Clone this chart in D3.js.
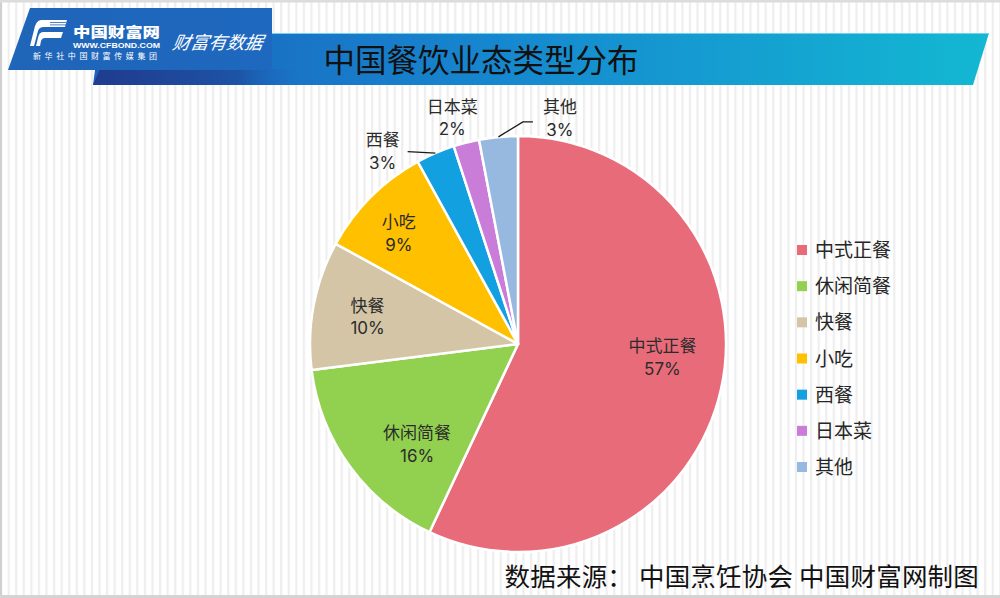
<!DOCTYPE html>
<html>
<head>
<meta charset="utf-8">
<script src="https://cdn.jsdelivr.net/npm/d3@7/dist/d3.min.js"></script>
<style>
  html, body { margin: 0; padding: 0; background: #fff; }
  svg { display: block; }
  text { font-family: "Noto Sans CJK SC", "Noto Sans", sans-serif; }
</style>
</head>
<body>
<svg id="chart" width="1000" height="598"></svg>
<script>
// ---- data ----
const categories = ["中式正餐", "休闲简餐", "快餐", "小吃", "西餐", "日本菜", "其他"];
const shares = [57, 16, 10, 9, 3, 2, 3];
const colors = ["#E86B7A", "#92D050", "#D3C5A5", "#FFC000", "#12A0E0", "#C97DD8", "#98B9DF"];
const titleText = "中国餐饮业态类型分布";
const sourceText = "数据来源： 中国烹饪协会 中国财富网制图";

// ---- layout config (label placement) ----
const labelLayout = {
  "中式正餐": { radius: 145, shift: -7.6 },
  "休闲简餐": { radius: 142, shift: -8.7 },
  "快餐":     { radius: 153, shift: -0.3 },
  "小吃":     { radius: 163, shift: -2 },
  "西餐":     { radius: 236, shift: -11.6, leader: "right" },
  "日本菜":   { radius: 236, shift: -1.8 },
  "其他":     { radius: 230, shift: 15.9, leader: "left" }
};

const W = 1000, H = 598;
const svg = d3.select("#chart");
const defs = svg.append("defs");

// stripes background
const pat = defs.append("pattern").attr("id", "stripes")
  .attr("patternUnits", "userSpaceOnUse").attr("width", 7.57).attr("height", 10);
pat.append("rect").attr("width", 7.57).attr("height", 10).attr("fill", "#ffffff");
pat.append("rect").attr("x", 0).attr("width", 2.2).attr("height", 10).attr("fill", "#eeeeee");
svg.append("rect").attr("width", W).attr("height", H).attr("fill", "url(#stripes)");

// borders
svg.append("rect").attr("x", 0).attr("y", 0).attr("width", 2).attr("height", H).attr("fill", "#d0d0d0");
svg.append("rect").attr("x", 0).attr("y", 0).attr("width", W).attr("height", 2.5).attr("fill", "#dcdcdc");
svg.append("rect").attr("x", 0).attr("y", H - 3).attr("width", W).attr("height", 3).attr("fill", "#d4d4d4");

// ---- header ----
const gBar = defs.append("linearGradient").attr("id", "gBar").attr("x1", "0%").attr("x2", "100%");
gBar.append("stop").attr("offset", "0%").attr("stop-color", "#1c62bc");
gBar.append("stop").attr("offset", "45%").attr("stop-color", "#1687cf");
gBar.append("stop").attr("offset", "100%").attr("stop-color", "#13b8d2");
const gShadow = defs.append("linearGradient").attr("id", "gShadow").attr("x1", "0%").attr("x2", "100%");
gShadow.append("stop").attr("offset", "0%").attr("stop-color", "#203c8e").attr("stop-opacity", 1);
gShadow.append("stop").attr("offset", "70%").attr("stop-color", "#203c8e").attr("stop-opacity", 0.55);
gShadow.append("stop").attr("offset", "100%").attr("stop-color", "#1c62bc").attr("stop-opacity", 0);
const gTop = defs.append("linearGradient").attr("id", "gTop").attr("x1", "0%").attr("x2", "100%");
gTop.append("stop").attr("offset", "0%").attr("stop-color", "#1f65b8");
gTop.append("stop").attr("offset", "100%").attr("stop-color", "#1e68bf");

const line = d3.line();
svg.append("path").attr("d", line([[100, 33], [989, 33], [973, 85], [93, 85]]) + "Z").attr("fill", "url(#gBar)");
svg.append("path").attr("d", line([[272, 33.5], [989, 33.5]])).attr("stroke", "#6fd3ee").attr("stroke-width", 1).attr("fill", "none");
svg.append("path").attr("d", line([[100, 69], [300, 69], [300, 85], [93, 85]]) + "Z").attr("fill", "url(#gShadow)");
svg.append("path").attr("d", line([[30, 8], [272, 8], [272, 70], [8, 70]]) + "Z").attr("fill", "url(#gTop)");

// logo icon
const logo = svg.append("g").attr("fill", "#ffffff");
logo.append("path").attr("d", "M41,20 L67,20 L65,27 L44,27 Q39,27 38,31 L34,46 L30,46 L34,30 Q36,20 41,20 Z");
logo.append("path").attr("d", "M43,32 L63,32 L61,38 L45,38 Q42,38 41,41 L40,46 L36,46 L38,38 Q39,32 43,32 Z");
[22, 24.5].forEach(y => logo.append("rect").attr("x", 50).attr("y", y).attr("width", 16).attr("height", 0.8).attr("fill", "#1f65b8"));

svg.append("text").attr("x", 73).attr("y", 37.3).attr("fill", "#fff").attr("font-size", 13.5).attr("font-weight", 900)
  .attr("textLength", 87).attr("lengthAdjust", "spacingAndGlyphs").text("中国财富网");
svg.append("text").attr("x", 73).attr("y", 47.8).attr("fill", "#fff").attr("font-size", 6.8).attr("font-weight", 700)
  .style("font-family", "'Liberation Sans', Arial, sans-serif")
  .attr("textLength", 87).attr("lengthAdjust", "spacingAndGlyphs").text("WWW.CFBOND.COM");
svg.append("text").attr("x", 33).attr("y", 59.2).attr("fill", "#fff").attr("font-size", 8).attr("letter-spacing", 3.6)
  .text("新华社中国财富传媒集团");
svg.append("text").attr("x", 172).attr("y", 49).attr("fill", "#fff").attr("font-size", 18).attr("font-style", "italic")
  .attr("transform", "skewX(-10) translate(8.5,0)").text("财富有数据");

svg.append("text").attr("x", 481).attr("y", 71.5).attr("text-anchor", "middle").attr("fill", "#111")
  .attr("font-size", 31.5).text(titleText);

// ---- pie ----
const cx = 518, cy = 344, R = 208;
const data = categories.map((c, i) => ({ name: c, value: shares[i], color: colors[i] }));
const pie = d3.pie().value(d => d.value).sort(null);
const arcs = pie(data);
const arc = d3.arc().innerRadius(0).outerRadius(R);

const gPie = svg.append("g").attr("transform", `translate(${cx},${cy})`);
gPie.selectAll("path.slice").data(arcs).join("path").attr("class", "slice")
  .attr("d", arc).attr("fill", d => d.data.color)
  .attr("stroke", "#ffffff").attr("stroke-width", 2.5).attr("stroke-linejoin", "round");

const polar = (angle, r) => [Math.sin(angle) * r, -Math.cos(angle) * r];

arcs.forEach(a => {
  const lay = labelLayout[a.data.name];
  const mid = (a.startAngle + a.endAngle) / 2;
  const ang = mid + lay.shift * Math.PI / 180;
  const [lx, ly] = polar(ang, lay.radius);
  gPie.append("text").attr("x", lx).attr("y", ly - 4.5).attr("text-anchor", "middle")
    .attr("fill", "#2b2b2b").attr("font-size", 17).text(a.data.name);
  gPie.append("text").attr("x", lx).attr("y", ly + 18).attr("text-anchor", "middle")
    .attr("fill", "#2b2b2b").attr("font-size", 17).style("font-family", "Inter, 'Open Sans', sans-serif")
    .text(d3.format(".0f")(a.data.value) + "%");
  if (lay.leader) {
    const edge = polar(mid, R);
    const halfW = a.data.name.length * 17 / 2;
    let pts;
    if (lay.leader === "right") {
      pts = [[lx + halfW + 8, ly + 1], edge];
    } else {
      const end = [lx - halfW - 10, ly + 4];
      pts = [edge, [end[0] - 10, end[1]], end];
    }
    gPie.append("path").attr("d", d3.line()(pts)).attr("fill", "none")
      .attr("stroke", "#1a1a1a").attr("stroke-width", 1.3);
  }
});

// ---- legend ----
const legendY = d3.scalePoint().domain(categories).range([250, 467]);
const gLeg = svg.append("g");
categories.forEach((c, i) => {
  const y = legendY(c);
  gLeg.append("rect").attr("x", 797).attr("y", y - 5).attr("width", 10).attr("height", 10).attr("fill", colors[i]);
  gLeg.append("text").attr("x", 815).attr("y", y + 7).attr("fill", "#262626").attr("font-size", 19).text(c);
});

// ---- source ----
svg.append("text").attr("x", 979).attr("y", 586).attr("text-anchor", "end").attr("fill", "#111")
  .attr("font-size", 25.5).attr("letter-spacing", 0.2).attr("xml:space", "preserve").style("white-space", "pre").text(sourceText);
</script>
</body>
</html>
